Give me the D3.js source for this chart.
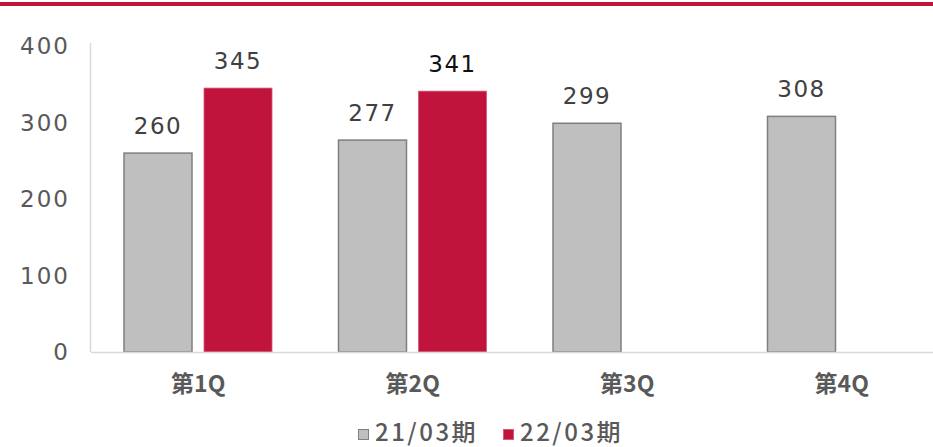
<!DOCTYPE html>
<html>
<head>
<meta charset="utf-8">
<script src="https://cdn.jsdelivr.net/npm/d3@7"></script>
<style>
  body { margin: 0; background: #fff; }
  text { font-family: "DejaVu Sans", "Noto Sans CJK JP", sans-serif; }
  .jp { font-family: "Noto Sans CJK JP", sans-serif; }
</style>
</head>
<body>
<script>
// chart data
const categories = ['第1Q', '第2Q', '第3Q', '第4Q']
const seriesNames = ['21/03期', '22/03期']
const values2103 = [260, 277, 299, 308]
const values2203 = [345, 341, null, null]
const yTicks = [0, 100, 200, 300, 400]

const colors = ['#bfbfbf', '#c0143c']
const strokes = ['#7f7f7f', '#d45a78']

const width = 933
const height = 447
const margin = { top: 46, left: 91, bottom: 95 }

const svg = d3.select('body')
  .append('svg')
  .attr('width', width)
  .attr('height', height)

// top red rule
svg.append('rect')
  .attr('x', 0).attr('y', 2)
  .attr('width', width).attr('height', 4)
  .attr('fill', '#c0143c')

const x = d3.scaleBand()
  .domain(categories)
  .range([margin.left, margin.left + 858])

const y = d3.scaleLinear()
  .domain([0, 400])
  .range([height - margin.bottom, margin.top])

const x1 = d3.scaleBand()
  .domain([0, 1])
  .range([33, 181])
  .paddingInner(0.15)

// y axis line
svg.append('line')
  .attr('x1', margin.left - 0.5).attr('x2', margin.left - 0.5)
  .attr('y1', y(400) - 3).attr('y2', y(0))
  .attr('stroke', '#d9d9d9').attr('stroke-width', 1.5)

svg.append('g')
  .selectAll('text')
  .data(yTicks)
  .join('text')
  .attr('x', 70)
  .attr('y', d => y(d))
  .attr('dy', '0.36em')
  .attr('text-anchor', 'end')
  .attr('font-size', 23)
  .attr('letter-spacing', 2)
  .attr('fill', '#595959')
  .text(d => d)

const rows = categories.map((c, i) => ({ cat: c, vals: [values2103[i], values2203[i]] }))

const groups = svg.append('g')
  .selectAll('g')
  .data(rows)
  .join('g')
  .attr('transform', d => `translate(${x(d.cat)},0)`)

const bars = groups.selectAll('g.bar')
  .data(d => d.vals.map((v, s) => ({ v, s })).filter(d => d.v != null))
  .join('g')
  .attr('class', 'bar')

bars.append('rect')
  .attr('x', d => x1(d.s))
  .attr('y', d => y(d.v))
  .attr('width', x1.bandwidth())
  .attr('height', d => y(0) - y(d.v))
  .attr('fill', d => colors[d.s])
  .attr('stroke', d => strokes[d.s])
  .attr('stroke-width', d => d.s === 0 ? 1.5 : 0.8)

bars.append('text')
  .attr('x', d => x1(d.s) + x1.bandwidth() / 2)
  .attr('y', d => y(d.v) - 19)
  .attr('text-anchor', 'middle')
  .attr('font-size', 23)
  .attr('letter-spacing', 1.5)
  .attr('fill', (d, i, n) => d.v === 341 ? '#111' : '#404040')
  .text(d => d.v)

// x axis line
svg.append('line')
  .attr('x1', margin.left).attr('x2', width)
  .attr('y1', y(0) + 0.5).attr('y2', y(0) + 0.5)
  .attr('stroke', '#d9d9d9').attr('stroke-width', 1.5)

svg.append('g')
  .selectAll('text')
  .data(categories)
  .join('text')
  .attr('class', 'jp')
  .attr('x', d => x(d) + x.bandwidth() / 2)
  .attr('y', 392)
  .attr('text-anchor', 'middle')
  .attr('font-size', 23)
  .attr('font-weight', 'bold')
  .attr('fill', '#595959')
  .text(d => d)

// legend
const legendX = [358, 503]
const legend = svg.append('g')
  .selectAll('g')
  .data(seriesNames)
  .join('g')
  .attr('transform', (d, i) => `translate(${legendX[i]},0)`)

legend.append('rect')
  .attr('x', 0.5).attr('y', 429.5)
  .attr('width', 10).attr('height', 10)
  .attr('fill', (d, i) => colors[i])
  .attr('stroke', (d, i) => strokes[i])

legend.append('text')
  .attr('class', 'jp')
  .attr('x', 17)
  .attr('y', 441)
  .attr('font-size', 24)
  .attr('font-weight', 500)
  .attr('letter-spacing', 2.5)
  .attr('fill', '#595959')
  .text(d => d)
</script>
</body>
</html>
